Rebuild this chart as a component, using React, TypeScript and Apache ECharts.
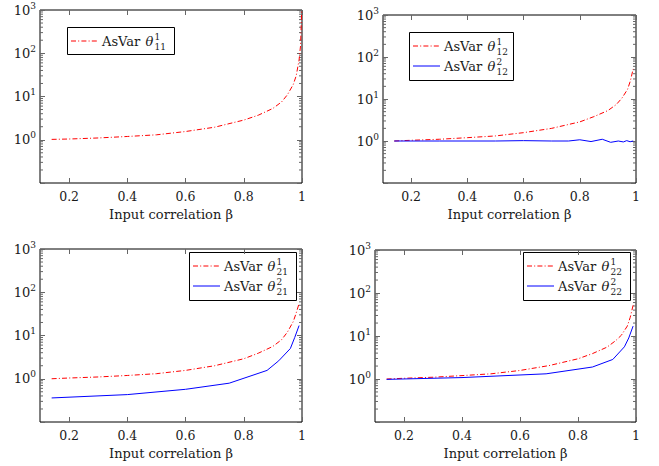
import React, { useEffect, useRef } from "react";
import * as echarts from "echarts";

// ---- tick values ----
const xTickValues = [0.2, 0.4, 0.6, 0.8, 1];
const yMinorTicks = [
  0.2, 0.3, 0.4, 0.5, 0.6, 0.7, 0.8, 0.9,
  2, 3, 4, 5, 6, 7, 8, 9,
  20, 30, 40, 50, 60, 70, 80, 90,
  200, 300, 400, 500, 600, 700, 800, 900,
];
const axisTitle = "Input correlation β";

// ---- panel 1 (theta_11) ----
const beta11 = [0.14, 0.2, 0.3, 0.4, 0.5, 0.6, 0.7, 0.8, 0.85, 0.9, 0.93, 0.95, 0.97, 0.98, 0.99, 0.995, 0.999];
const asVar11First = [1.02, 1.04, 1.1, 1.19, 1.3, 1.55, 1.95, 2.85, 3.7, 5.3, 7.5, 11, 19, 30, 70, 150, 1000];

// ---- red curves, panels 2-4 ----
const betaRed = [0.14, 0.2, 0.3, 0.4, 0.5, 0.6, 0.7, 0.8, 0.85, 0.9, 0.93, 0.95, 0.97, 0.98, 0.99];
const asVar12First = [1.0, 1.04, 1.1, 1.2, 1.32, 1.58, 2.0, 2.85, 3.8, 5.3, 7.4, 10.5, 17, 27, 52];
const asVar21First = [1.0, 1.04, 1.1, 1.19, 1.31, 1.56, 2.0, 2.9, 3.9, 5.6, 8.0, 12, 21, 33, 55];
const asVar22First = [1.0, 1.04, 1.1, 1.2, 1.32, 1.58, 2.05, 2.95, 3.9, 5.5, 7.8, 10.5, 17, 27, 52];

// ---- blue curves ----
const beta12Second = [0.14, 0.3, 0.5, 0.6, 0.7, 0.76, 0.8, 0.84, 0.88, 0.91, 0.937, 0.955, 0.967, 0.979, 0.99];
const asVar12Second = [1.0, 1.0, 1.0, 1.02, 1.0, 1.0, 1.07, 0.97, 1.1, 0.93, 1.0, 0.95, 1.02, 0.96, 1.0];

const beta21Second = [0.14, 0.4, 0.6, 0.75, 0.88, 0.92, 0.96, 0.975, 0.99];
const asVar21Second = [0.36, 0.43, 0.57, 0.79, 1.56, 2.6, 5.0, 9, 17];

const beta22Second = [0.14, 0.4, 0.69, 0.85, 0.92, 0.96, 0.975, 0.99];
const asVar22Second = [0.98, 1.08, 1.32, 1.9, 2.85, 5.6, 9, 17];

const FONT = "'DejaVu Serif', serif";
const TXT = "#1a1a1a";
const TICK = "#666666";
const RED = "#ff0000";
const BLUE = "#0000ff";
const DASHDOT = [5, 2.2, 1, 2.2];

const zip = (xs: number[], ys: number[]) => xs.map((x, i) => [x, ys[i]]);

const grids = [
  { left: 40, top: 10, width: 262, height: 173 },
  { left: 383, top: 15, width: 253, height: 168 },
  { left: 40, top: 249, width: 262, height: 173 },
  { left: 375, top: 250, width: 261, height: 172 },
];

type Entry = { name: string; color: string; dash: number[] | null; sup: string; sub: string; x: number[]; y: number[] };

const panels: Entry[][] = [
  [{ name: "AsVar θ11 1", color: RED, dash: DASHDOT, sup: "1", sub: "11", x: beta11, y: asVar11First }],
  [
    { name: "AsVar θ12 1", color: RED, dash: DASHDOT, sup: "1", sub: "12", x: betaRed, y: asVar12First },
    { name: "AsVar θ12 2", color: BLUE, dash: null, sup: "2", sub: "12", x: beta12Second, y: asVar12Second },
  ],
  [
    { name: "AsVar θ21 1", color: RED, dash: DASHDOT, sup: "1", sub: "21", x: betaRed, y: asVar21First },
    { name: "AsVar θ21 2", color: BLUE, dash: null, sup: "2", sub: "21", x: beta21Second, y: asVar21Second },
  ],
  [
    { name: "AsVar θ22 1", color: RED, dash: DASHDOT, sup: "1", sub: "22", x: betaRed, y: asVar22First },
    { name: "AsVar θ22 2", color: BLUE, dash: null, sup: "2", sub: "22", x: beta22Second, y: asVar22Second },
  ],
];

const legendBoxes = [
  { x: 67, y: 27, w: 107, h: 27 },
  { x: 409, y: 32, w: 104, h: 48 },
  { x: 189, y: 252, w: 107, h: 48 },
  { x: 523, y: 252, w: 107, h: 48 },
];

function legendGraphic(box: { x: number; y: number; w: number; h: number }, entries: Entry[]) {
  const children: any[] = [
    {
      type: "rect",
      shape: { x: box.x + 0.5, y: box.y + 0.5, width: box.w, height: box.h },
      style: { fill: "#fff", stroke: "#000", lineWidth: 1 },
    },
  ];
  entries.forEach((e, k) => {
    const cy = box.y + 14 + 20 * k;
    const tx = box.x + 35;
    children.push({
      type: "line",
      shape: { x1: box.x + 4, y1: cy, x2: box.x + 31, y2: cy },
      style: { stroke: e.color, lineWidth: 1, lineDash: e.dash || undefined },
    });
    children.push({
      type: "text",
      x: tx,
      y: cy,
      style: { text: "AsVar", fontFamily: FONT, fontSize: 13, fill: TXT, verticalAlign: "middle", align: "left" },
    });
    children.push({
      type: "text",
      x: tx + 43.5,
      y: cy,
      style: { text: "θ", fontFamily: FONT, fontStyle: "italic", fontSize: 13, fill: TXT, verticalAlign: "middle", align: "left" },
    });
    children.push({
      type: "text",
      x: tx + 52.5,
      y: cy - 4.5,
      style: { text: e.sup, fontFamily: FONT, fontSize: 9, fill: TXT, verticalAlign: "middle", align: "left" },
    });
    children.push({
      type: "text",
      x: tx + 52.5,
      y: cy + 6,
      style: { text: e.sub, fontFamily: FONT, fontSize: 9, fill: TXT, verticalAlign: "middle", align: "left" },
    });
  });
  return { type: "group", z: 100, children };
}

export default function App() {
  const ref = useRef<HTMLDivElement>(null);
  useEffect(() => {
    if (!ref.current) return;
    const chart = echarts.init(ref.current, undefined, { renderer: "svg" });

    const xAxis: any[] = [];
    const yAxis: any[] = [];
    const series: any[] = [];
    const tickLine = { color: TICK, width: 1 };

    grids.forEach((_, i) => {
      xAxis.push({
        type: "value",
        gridIndex: i,
        min: 0.1,
        max: 1,
        position: "bottom",
        axisLine: { show: false },
        axisTick: { show: true, inside: true, length: 5, customValues: xTickValues, lineStyle: tickLine },
        axisLabel: {
          customValues: xTickValues,
          formatter: (v: number) => (v === 1 ? "1" : v.toFixed(1)),
          fontFamily: FONT,
          fontSize: 12.5,
          color: TXT,
          margin: 7,
        },
        splitLine: { show: false },
        name: axisTitle,
        nameLocation: "middle",
        nameGap: 25,
        nameTextStyle: { fontFamily: FONT, fontSize: 13, color: TXT },
      });
      xAxis.push({
        type: "value",
        gridIndex: i,
        min: 0.1,
        max: 1,
        position: "top",
        axisLine: { show: false },
        axisTick: { show: true, inside: true, length: 5, customValues: xTickValues, lineStyle: tickLine },
        axisLabel: { show: false },
        splitLine: { show: false },
      });
      yAxis.push({
        type: "log",
        logBase: 10,
        gridIndex: i,
        min: 0.1,
        max: 1000,
        position: "left",
        axisLine: { show: false },
        axisTick: { show: true, inside: true, length: 5, lineStyle: tickLine },
        axisLabel: {
          margin: 4,
          fontFamily: FONT,
          formatter: (v: number) => {
            if (v < 0.5) return "";
            const e = Math.round(Math.log10(v));
            return `{b|10}{s|${e}}`;
          },
          rich: {
            b: { fontFamily: FONT, fontSize: 13, color: TXT, lineHeight: 18 },
            s: { fontFamily: FONT, fontSize: 9, color: TXT, lineHeight: 8, verticalAlign: "top" },
          },
        },
        splitLine: { show: false },
        minorTick: { show: false },
      });
      yAxis.push({
        type: "log",
        logBase: 10,
        gridIndex: i,
        min: 0.1,
        max: 1000,
        position: "right",
        axisLine: { show: false },
        axisTick: { show: true, inside: true, length: 5, lineStyle: tickLine },
        axisLabel: { show: false },
        splitLine: { show: false },
      });

      series.push({
        type: "custom",
        name: "minor ticks " + i,
        xAxisIndex: 2 * i,
        yAxisIndex: 2 * i,
        silent: true,
        z: 1,
        data: yMinorTicks.map((v) => [0.5, v]),
        renderItem: (params: any, api: any) => {
          const pt = api.coord([0.5, api.value(1)]);
          const cs = params.coordSys;
          const st = { stroke: TICK, lineWidth: 1 };
          return {
            type: "group",
            children: [
              { type: "line", shape: { x1: cs.x, y1: pt[1], x2: cs.x + 3, y2: pt[1] }, style: st },
              { type: "line", shape: { x1: cs.x + cs.width - 3, y1: pt[1], x2: cs.x + cs.width, y2: pt[1] }, style: st },
            ],
          };
        },
      });

      panels[i].forEach((e) => {
        series.push({
          type: "line",
          name: e.name,
          xAxisIndex: 2 * i,
          yAxisIndex: 2 * i,
          data: zip(e.x, e.y),
          showSymbol: false,
          symbol: "none",
          z: 3,
          lineStyle: { color: e.color, width: 1, type: e.dash ? e.dash : "solid" },
        });
      });
    });

    chart.setOption({
      animation: false,
      backgroundColor: "#fff",
      textStyle: { fontFamily: FONT },
      grid: grids.map((g) => ({ ...g, show: true, borderColor: "#000", borderWidth: 1, backgroundColor: "transparent" })),
      xAxis,
      yAxis,
      series,
      graphic: legendBoxes.map((b, i) => legendGraphic(b, panels[i])),
    });
    return () => chart.dispose();
  }, []);
  return (
    <div
      ref={ref}
      style={{ position: "fixed", left: 0, top: 0, width: 659, height: 466, background: "#fff" }}
    />
  );
}
